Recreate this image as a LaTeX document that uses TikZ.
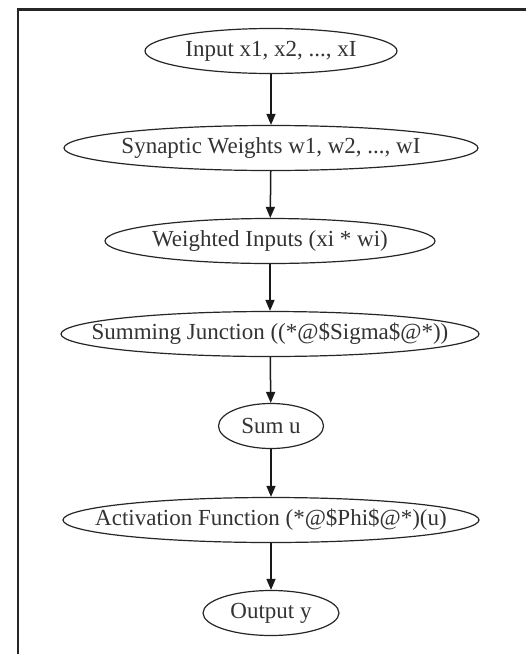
\documentclass[tikz,border=0pt]{standalone}
\usepackage{fontspec}
\setmainfont{Liberation Serif}
\usetikzlibrary{shapes.geometric,arrows.meta}
\begin{document}
\begin{tikzpicture}[x=1pt,y=-1pt,
  lbl/.style={font=\fontsize{23}{26}\selectfont,text=black!80,inner sep=0pt},
  nd/.style 2 args={draw=black!85,line width=1.2pt,ellipse,inner sep=0pt,
    minimum height=45pt,minimum width=#1,label={[lbl]center:#2}},
  conn/.style={draw=black!90,line width=1.5pt,-{Triangle[length=11pt,width=9pt]}}]
\useasboundingbox (0,0) rectangle (526,654);
\fill[white] (0,0) rectangle (526,654);
\draw[line width=2.5pt,black!85] (18,654) -- (18,9.7) -- (526,9.7);
\node[nd={252pt}{Input x1, x2, ..., xI}] (inp) at (271,51) {};
\node[nd={414pt}{Synaptic Weights w1, w2, ..., wI}] (syn) at (271,148) {};
\node[nd={330pt}{Weighted Inputs (xi * wi)}] (wei) at (270,241) {};
\node[nd={418pt}{Summing Junction ((*@\$Sigma\$@*))}] (sum) at (270,334) {};
\node[nd={105pt}{Sum u}] (su) at (271,426) {};
\node[nd={416pt}{Activation Function (*@\$Phi\$@*)(u)}] (act) at (271,520) {};
\node[nd={136pt}{Output y}] (out) at (271,613) {};
\draw[conn] (inp) -- (syn);
\draw[conn] (syn) -- (wei);
\draw[conn] (wei) -- (sum);
\draw[conn] (sum) -- (su);
\draw[conn] (su) -- (act);
\draw[conn] (act) -- (out);
\end{tikzpicture}
\end{document}
